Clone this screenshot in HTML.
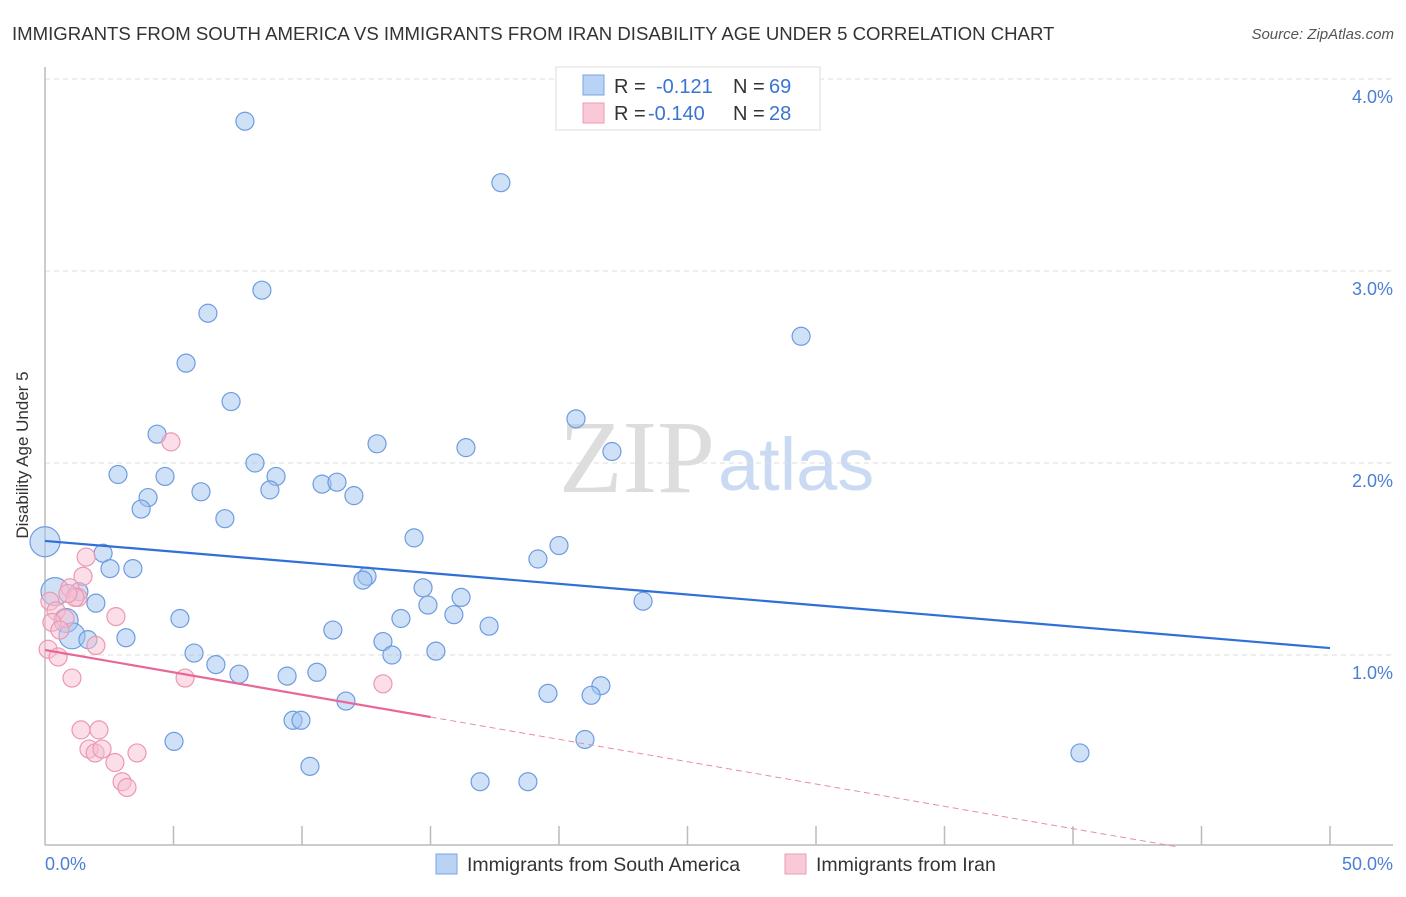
<!DOCTYPE html>
<html><head><meta charset="utf-8"><style>
body{margin:0;background:#fff;font-family:"Liberation Sans",sans-serif;}
</style></head><body>
<svg width="1406" height="892" xmlns="http://www.w3.org/2000/svg">
<text x="12" y="40" font-size="18.6" fill="#333">IMMIGRANTS FROM SOUTH AMERICA VS IMMIGRANTS FROM IRAN DISABILITY AGE UNDER 5 CORRELATION CHART</text>
<text x="1394" y="39" font-size="15" fill="#555" font-style="italic" text-anchor="end">Source: ZipAtlas.com</text>
<text x="715" y="492" font-size="104" fill="#ddd" font-family="Liberation Serif, serif" text-anchor="end">ZIP</text>
<text x="718" y="490" font-size="74" fill="#c9daf2">atlas</text>
<g id="grid"></g>
<line x1="45" y1="67" x2="45" y2="845" stroke="#bbb" stroke-width="1.5"/>
<line x1="45" y1="845" x2="1393" y2="845" stroke="#bbb" stroke-width="1.5"/>
<text x="28" y="455" font-size="17" fill="#333" text-anchor="middle" transform="rotate(-90 28 455)">Disability Age Under 5</text>
<text x="45" y="870" font-size="18" fill="#4a7fd4">0.0%</text>
<text x="1393" y="870" font-size="18" fill="#4a7fd4" text-anchor="end">50.0%</text>
<g id="pts"></g>
<g id="lines"></g>
<g>
<rect x="556" y="67" width="264" height="63" fill="#fff" stroke="#ddd"/>
<rect x="583" y="75" width="21" height="20" fill="#b9d3f5" stroke="#7aa6e3"/>
<rect x="583" y="103" width="21" height="20" fill="#fac9d7" stroke="#ee9ab3"/>
<text x="614" y="93" font-size="20" fill="#333">R = </text><text x="656" y="93" font-size="20" fill="#3a74d2">-0.121</text>
<text x="733" y="93" font-size="20" fill="#333">N = </text><text x="769" y="93" font-size="20" fill="#3a74d2">69</text>
<text x="614" y="120" font-size="20" fill="#333">R = </text><text x="648" y="120" font-size="20" fill="#3a74d2">-0.140</text>
<text x="733" y="120" font-size="20" fill="#333">N = </text><text x="769" y="120" font-size="20" fill="#3a74d2">28</text>
</g>
<g>
<rect x="436" y="854" width="21" height="20" fill="#b9d3f5" stroke="#7aa6e3"/>
<text x="467" y="871" font-size="19.5" fill="#333">Immigrants from South America</text>
<rect x="785" y="854" width="21" height="20" fill="#fac9d7" stroke="#ee9ab3"/>
<text x="816" y="871" font-size="19.5" fill="#333">Immigrants from Iran</text>
</g>
</svg>
<script>
const yTicks=[1,2,3,4];
const yTickLabels=["1.0%","2.0%","3.0%","4.0%"];
const xTicks=[5,10,15,20,25,30,35,40,45,50];
const blueX=[0,7.78,17.74,8.44,6.34,29.42,5.49,7.24,4.36,20.66,12.92,16.38,22.06,8.17,2.84,4.67,8.99,6.07,10.78,11.36,8.75,4.01,12.02,3.74,7.0,14.36,20.0,2.26,19.18,2.53,3.42,12.53,12.37,0.39,1.32,14.71,16.19,1.98,14.9,23.27,15.91,5.25,13.85,17.28,0.82,11.2,1.05,1.67,3.15,13.15,5.8,13.5,15.21,6.65,7.55,9.42,10.58,21.63,19.57,21.25,11.71,9.65,9.96,21.01,5.02,40.27,10.31,16.93,18.79];
const blueY=[1.59,3.78,3.46,2.90,2.78,2.66,2.52,2.32,2.15,2.23,2.10,2.08,2.06,2.00,1.94,1.93,1.93,1.85,1.89,1.90,1.86,1.82,1.83,1.76,1.71,1.61,1.57,1.53,1.50,1.45,1.45,1.41,1.39,1.33,1.33,1.35,1.30,1.27,1.26,1.28,1.21,1.19,1.19,1.15,1.18,1.13,1.10,1.08,1.09,1.07,1.01,1.00,1.02,0.95,0.90,0.89,0.91,0.84,0.80,0.79,0.76,0.66,0.66,0.56,0.55,0.49,0.42,0.34,0.34];
const blueSize=[15,9,9,9,9,9,9,9,9,9,9,9,9,9,9,9,9,9,9,9,9,9,9,9,9,9,9,9,9,9,9,9,9,14,9,9,9,9,9,9,9,9,9,9,12,9,13,9,9,9,9,9,9,9,9,9,9,9,9,9,9,9,9,9,9,9,9,9,9];
const pinkX=[4.90,1.60,1.48,0.97,1.28,0.19,0.43,0.78,1.17,2.76,0.27,0.58,1.98,0.12,0.51,5.45,1.05,13.15,1.40,2.10,1.71,1.95,2.22,3.58,2.72,3.00,3.19,0.89];
const pinkY=[2.11,1.51,1.41,1.35,1.30,1.28,1.23,1.19,1.30,1.20,1.17,1.13,1.05,1.03,0.99,0.88,0.88,0.85,0.61,0.61,0.51,0.49,0.51,0.49,0.44,0.34,0.31,1.32];
const blueTrend=[1.594,1.036];
const pinkTrend=[1.026,0.677,15];
const xs=v=>45+v/50*1285, ys=v=>847-v*192;
const NS="http://www.w3.org/2000/svg";
function mk(t,a,p){const e=document.createElementNS(NS,t);for(const k in a)e.setAttribute(k,a[k]);p.appendChild(e);return e;}
const gridG=document.getElementById('grid');
yTicks.forEach((t,i)=>{
 const l=mk('line',{x1:45,x2:1393,y1:ys(t),y2:ys(t),stroke:'#ddd','stroke-dasharray':'5,4'},gridG);
 
 
 const tx=mk('text',{x:1393,y:ys(t)+24,'font-size':18,fill:'#4a7fd4','text-anchor':'end'},gridG);
 tx.textContent=yTickLabels[i];
 
 
});
const topGrid=mk('line',{x1:45,x2:1393,y1:79,y2:79,stroke:'#ddd','stroke-dasharray':'5,4'},gridG);


xTicks.forEach(t=>{
 const l=mk('line',{x1:xs(t),x2:xs(t),y1:826,y2:845,stroke:'#bbb','stroke-width':1.5},gridG);
 
 
});
const ptsG=document.getElementById('pts');
blueX.forEach((x,i)=>{
 const c=mk('circle',{cx:xs(x),cy:ys(blueY[i]),r:blueSize[i],fill:'rgba(160,196,240,0.5)',stroke:'#6f9be0','stroke-width':1.2},ptsG);
 
 
});
pinkX.forEach((x,i)=>{
 const c=mk('circle',{cx:xs(x),cy:ys(pinkY[i]),r:9,fill:'rgba(248,190,208,0.5)',stroke:'#ec98b2','stroke-width':1.2},ptsG);
 
 
});
const linesG=document.getElementById('lines');
const bl=mk('line',{x1:xs(0),y1:ys(blueTrend[0]),x2:xs(50),y2:ys(blueTrend[1]),stroke:'#2f6fd6','stroke-width':2.2},linesG);


const slope=(pinkTrend[1]-pinkTrend[0])/pinkTrend[2];
const xEnd=-pinkTrend[0]/slope;
const pd=mk('line',{x1:xs(pinkTrend[2]),y1:ys(pinkTrend[1]),x2:xs(xEnd),y2:ys(0),stroke:'#eb8aab','stroke-width':1,'stroke-dasharray':'6,4'},linesG);


const pl=mk('line',{x1:xs(0),y1:ys(pinkTrend[0]),x2:xs(pinkTrend[2]),y2:ys(pinkTrend[1]),stroke:'#e8679a','stroke-width':2.2},linesG);


</script>
</body></html>
